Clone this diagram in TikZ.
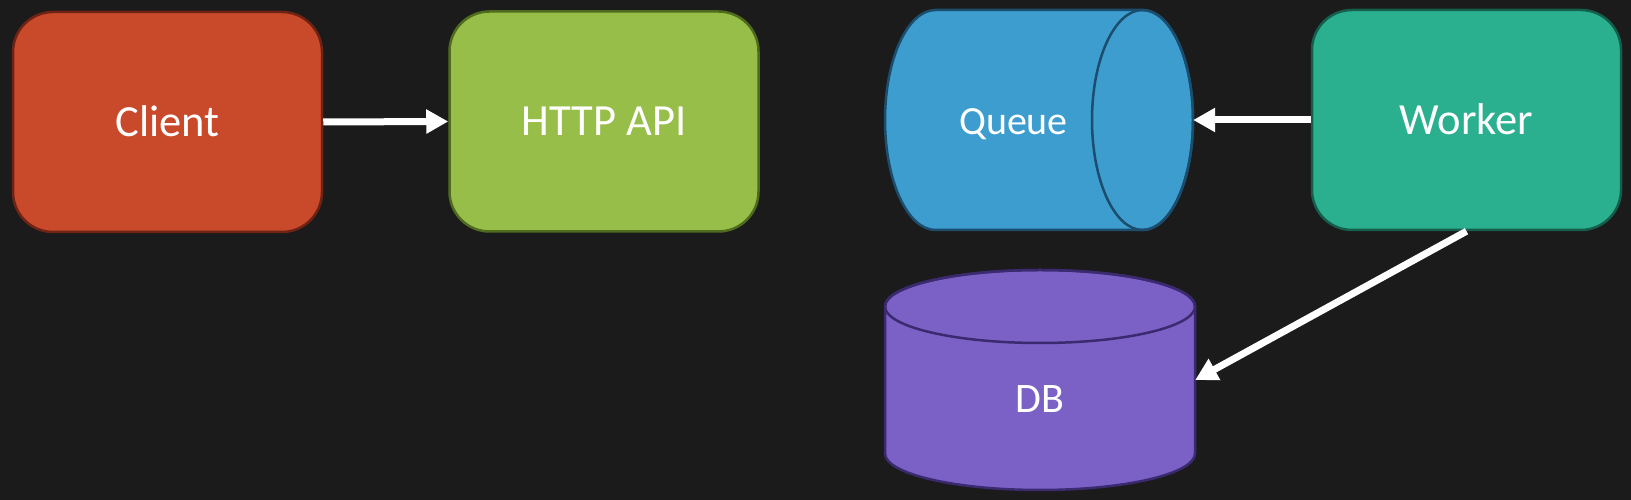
\documentclass[tikz,border=0pt]{standalone}
\usepackage{fontspec}
\setmainfont{Carlito}
\usetikzlibrary{arrows.meta}
\definecolor{bgc}{HTML}{1B1B1B}
\definecolor{clientfill}{HTML}{C9492B}
\definecolor{clientline}{HTML}{6E2314}
\definecolor{apifill}{HTML}{98BE4A}
\definecolor{apiline}{HTML}{4F6B1E}
\definecolor{queuefill}{HTML}{3D9DCF}
\definecolor{queueline}{HTML}{1B4E6E}
\definecolor{workerfill}{HTML}{2AB08F}
\definecolor{workerline}{HTML}{145E4B}
\definecolor{dbfill}{HTML}{7B61C5}
\definecolor{dbline}{HTML}{3B2A6F}
\tikzset{
  boxnode/.style={rectangle, rounded corners=40pt, line width=2.5pt,
    minimum width=309pt, minimum height=220pt, inner sep=0pt,
    text=white, font=\fontsize{44.5}{50}\selectfont,
    text height=28.5pt, text depth=0pt},
  cylnode/.style={rectangle, draw=none, inner sep=0pt},
  cyllabel/.style={text=white, inner sep=0pt, text depth=0pt},
  flow/.style={draw=white, line width=7pt,
    -{Triangle[length=22pt,width=23pt]}},
  cylline/.style={line width=2.5pt}
}
\begin{document}
\begin{tikzpicture}[x=1pt,y=1pt]
\useasboundingbox (0,0) rectangle (1631,500);
\fill[bgc] (0,0) rectangle (1631,500);

% rounded boxes
\node[boxnode, fill=clientfill, draw=clientline] (client) at (167.5,378) {Client};
\node[boxnode, fill=apifill, draw=apiline] (api) at (604,378.5) {HTTP API};
\node[boxnode, fill=workerfill, draw=workerline] (worker) at (1466.5,380) {Worker};

% Queue cylinder (horizontal)
\path[fill=queuefill, draw=queueline, cylline]
  (935.5,490) -- (1142.5,490)
  arc[start angle=90, end angle=-90, x radius=50.5, y radius=110]
  -- (935.5,270)
  arc[start angle=270, end angle=90, x radius=50.5, y radius=110]
  -- cycle;
\draw[queueline, cylline] (1142.5,380) ellipse[x radius=50.5, y radius=110];
\node[cylnode, minimum width=308pt, minimum height=220pt,
  label={[cyllabel, font=\fontsize{40}{46}\selectfont, text height=26pt,
          xshift=-25.5pt, yshift=-1.5pt]center:Queue}] (queue) at (1039,380) {};

% DB cylinder (vertical)
\path[fill=dbfill, draw=dbline, cylline]
  (885,193.5) -- (885,46.5)
  arc[start angle=180, end angle=360, x radius=155, y radius=36.5]
  -- (1195,193.5)
  arc[start angle=0, end angle=180, x radius=155, y radius=36.5]
  -- cycle;
\draw[dbline, cylline] (1040,193.5) ellipse[x radius=155, y radius=36.5];
\node[cylnode, minimum width=310pt, minimum height=220pt,
  label={[cyllabel, font=\fontsize{42}{48}\selectfont, text height=27.5pt,
          yshift=-19pt]center:DB}] (db) at (1040,120) {};

% connectors
\draw[flow] (client.east) -- (api.west);
\draw[flow] (worker.west) -- (queue.east);
\draw[flow] (worker.south) -- (db.east);
\end{tikzpicture}
\end{document}
